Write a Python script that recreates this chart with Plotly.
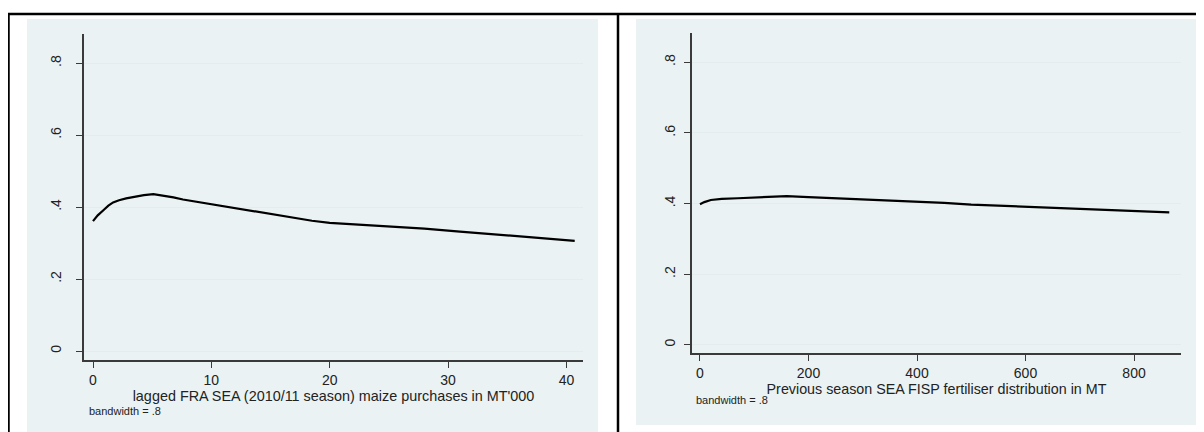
import plotly.graph_objects as go

# ---- data ----
left_x = [0, 0.4, 0.9, 1.3, 1.7, 2.2, 2.8, 3.3, 3.7, 4.3, 5.1, 5.8, 6.8, 7.6, 8.5,
          10, 11.3, 12.6, 14.1, 15.5, 17, 18.5, 20, 22, 25, 28, 31, 34, 37, 40.7]
left_y = [0.361, 0.377, 0.392, 0.404, 0.413, 0.419, 0.424, 0.427, 0.431, 0.433, 0.436,
          0.433, 0.427, 0.421, 0.416, 0.409, 0.401, 0.393, 0.385, 0.378, 0.370, 0.362,
          0.356, 0.352, 0.347, 0.340, 0.332, 0.324, 0.316, 0.306]

right_x = [0, 8, 20, 40, 70, 100, 130, 160, 200, 250, 300, 350, 400, 450, 500, 550,
           600, 650, 700, 750, 800, 865]
right_y = [0.398, 0.404, 0.410, 0.413, 0.415, 0.417, 0.420, 0.421, 0.418, 0.415, 0.411,
           0.409, 0.406, 0.402, 0.397, 0.394, 0.391, 0.388, 0.384, 0.381, 0.378, 0.375]

y_ticks = [0, 0.2, 0.4, 0.6, 0.8]
y_tick_labels = ["0", ".2", ".4", ".6", ".8"]
left_x_ticks = [0, 10, 20, 30, 40]
right_x_ticks = [0, 200, 400, 600, 800]
left_title = "lagged FRA SEA (2010/11 season) maize purchases in MT'000"
right_title = "Previous season SEA FISP fertiliser distribution in MT"
note_text = "bandwidth = .8"

# page is 1204x432; the browser's default 8px body margin offsets the figure
OFF = 8
W, H = 1204 - OFF, 432 - OFF
def px(x):
    return (x - OFF) / W
def py(y):
    return 1 - (y - OFF) / H

BG = "#EAF2F3"
GRID = "#E4ECEE"
AX = "#3a3a3a"
FONT = "Liberation Sans, Arial, sans-serif"

fig = go.Figure()
fig.add_trace(go.Scatter(x=left_x, y=left_y, mode="lines", line=dict(color="black", width=2.2),
                         xaxis="x", yaxis="y", showlegend=False, hoverinfo="skip"))
fig.add_trace(go.Scatter(x=right_x, y=right_y, mode="lines", line=dict(color="black", width=2.2),
                         xaxis="x2", yaxis="y2", showlegend=False, hoverinfo="skip"))

common_x = dict(showgrid=False, zeroline=False, showline=True, linecolor=AX, linewidth=1.5,
                ticks="outside", ticklen=6, tickcolor=AX, tickwidth=1,
                tickfont=dict(family=FONT, size=14, color="#222"))
common_y = dict(showgrid=True, gridcolor=GRID, gridwidth=1, zeroline=False, showline=True,
                linecolor=AX, linewidth=1.5, ticks="outside", ticklen=6, tickcolor=AX,
                tickwidth=1, tickvals=y_ticks, ticktext=y_tick_labels, tickangle=-90,
                tickfont=dict(family=FONT, size=14, color="#222"))

fig.update_layout(
    width=W, height=H,
    margin=dict(l=0, r=0, t=0, b=0),
    paper_bgcolor="white", plot_bgcolor="white",
    font=dict(family=FONT, color="#222"),
    xaxis=dict(domain=[px(84), px(583)], range=[-0.76, 41.4], tickvals=left_x_ticks,
               anchor="y",
               title=dict(text=left_title, font=dict(family=FONT, size=14.4, color="#222"), standoff=0),
               **common_x),
    yaxis=dict(domain=[py(360), py(34)], range=[-0.025, 0.881], anchor="x",
               ticklabelstandoff=10, **common_y),
    xaxis2=dict(domain=[px(692), px(1181)], range=[-14.7, 886.6], tickvals=right_x_ticks,
                anchor="y2",
                title=dict(text=right_title, font=dict(family=FONT, size=14.3, color="#222"), standoff=0),
                **common_x),
    yaxis2=dict(domain=[py(353.3), py(33.3)], range=[-0.024, 0.882], anchor="x2",
                ticklabelstandoff=4, **common_y),
)

shapes = [
    # light graph-region backgrounds
    dict(type="rect", xref="paper", yref="paper", x0=px(27), x1=px(598), y0=py(440), y1=py(19),
         fillcolor=BG, line=dict(width=0), layer="below"),
    dict(type="rect", xref="paper", yref="paper", x0=px(636), x1=px(1196), y0=py(425), y1=py(19),
         fillcolor=BG, line=dict(width=0), layer="below"),
    # outer table borders
    dict(type="line", xref="paper", yref="paper", x0=px(7), x1=px(1210), y0=py(14), y1=py(14),
         line=dict(color="black", width=2.5)),
    dict(type="line", xref="paper", yref="paper", x0=px(8.5), x1=px(8.5), y0=py(14), y1=py(440),
         line=dict(color="black", width=2.5)),
    dict(type="line", xref="paper", yref="paper", x0=px(618), x1=px(618), y0=py(14), y1=py(440),
         line=dict(color="black", width=2.5)),
]
fig.update_layout(shapes=shapes)

fig.add_annotation(text=note_text, xref="paper", yref="paper", x=px(87), y=py(411),
                   xanchor="left", yanchor="middle", showarrow=False,
                   font=dict(family=FONT, size=11, color="#222"))
fig.add_annotation(text=note_text, xref="paper", yref="paper", x=px(694), y=py(400),
                   xanchor="left", yanchor="middle", showarrow=False,
                   font=dict(family=FONT, size=11, color="#222"))

fig.write_html("out.html")
